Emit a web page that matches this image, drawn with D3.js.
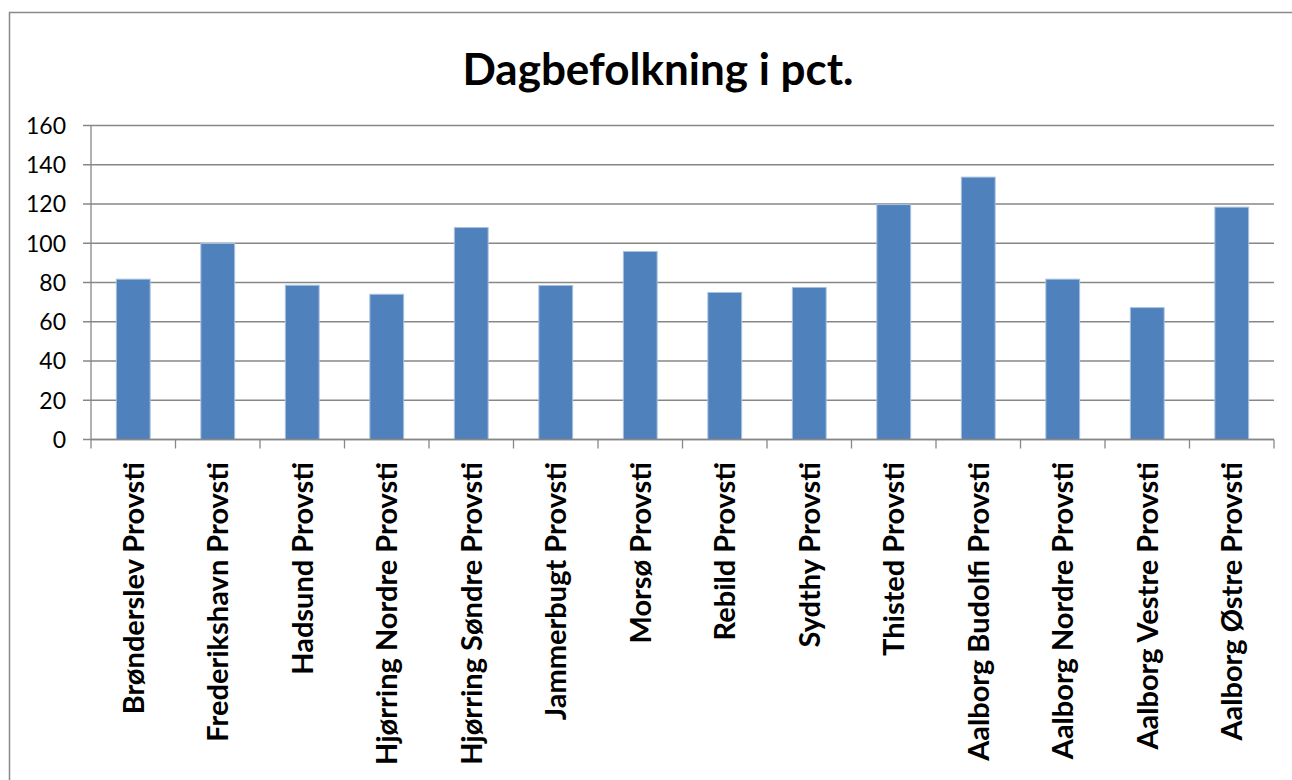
<!DOCTYPE html>
<html><head><meta charset="utf-8">
<script src="https://cdn.jsdelivr.net/npm/d3@7"></script>
<style>body{margin:0;background:#fff;} svg{display:block;}</style>
</head><body>
<svg id="c" width="1292" height="780"></svg>
<script>
const title = "Dagbefolkning i pct.";
const categories = ["Brønderslev Provsti","Frederikshavn Provsti","Hadsund Provsti","Hjørring Nordre Provsti","Hjørring Søndre Provsti","Jammerbugt Provsti","Morsø Provsti","Rebild Provsti","Sydthy Provsti","Thisted Provsti","Aalborg Budolfi Provsti","Aalborg Nordre Provsti","Aalborg Vestre Provsti","Aalborg Østre Provsti"];
const values = [81.7,99.9,78.6,74.0,108.0,78.5,95.8,74.9,77.5,119.7,133.7,81.7,67.2,118.4];
const yTicks = [0,20,40,60,80,100,120,140,160];

const svg = d3.select("#c");
const pLeft = 91, pRight = 1274, pTop = 125.5, pBottom = 439.5;

svg.append("rect").attr("x",9.5).attr("y",12.5).attr("width",1400).attr("height",1000)
  .attr("fill","#fff").attr("stroke","#898989").attr("stroke-width",1.5);

svg.append("text").attr("x",658).attr("y",85).attr("text-anchor","middle")
  .style("font-family","Lato, 'Open Sans', sans-serif").style("font-weight","bold").style("font-size","44px")
  .attr("fill","#000").text(title);

const x = d3.scaleBand().domain(categories).range([pLeft,pRight]).paddingInner(0.6).paddingOuter(0.3);
const y = d3.scaleLinear().domain([0,160]).range([pBottom,pTop]);

svg.append("g").selectAll("line").data(yTicks).join("line")
  .attr("x1",pLeft-8).attr("x2",pRight).attr("y1",d=>y(d)).attr("y2",d=>y(d))
  .attr("stroke","#878787").attr("stroke-width",1.3);

svg.append("line").attr("x1",pLeft).attr("x2",pLeft).attr("y1",pTop).attr("y2",pBottom)
  .attr("stroke","#878787").attr("stroke-width",1.3);

svg.append("g").selectAll("text").data(yTicks).join("text")
  .attr("x",66).attr("y",d=>y(d)).attr("dy","0.36em").attr("text-anchor","end")
  .style("font-family","Lato, sans-serif").style("font-size","23px").attr("fill","#000")
  .text(d=>d);

svg.append("g").selectAll("rect").data(values).join("rect")
  .attr("x",(d,i)=>x(categories[i])).attr("width",x.bandwidth())
  .attr("y",d=>y(d)).attr("height",d=>y(0)-y(d))
  .attr("fill","#4f81bd").attr("stroke","#a9c0df").attr("stroke-width",1);

svg.append("line").attr("x1",pLeft).attr("x2",pRight).attr("y1",pBottom).attr("y2",pBottom)
  .attr("stroke","#878787").attr("stroke-width",1.3);
const step = x.step();
svg.append("g").selectAll("line").data(d3.range(categories.length+1)).join("line")
  .attr("x1",i=>pLeft+i*step).attr("x2",i=>pLeft+i*step).attr("y1",pBottom).attr("y2",pBottom+9)
  .attr("stroke","#878787").attr("stroke-width",1.3);

svg.append("g").selectAll("text").data(categories).join("text")
  .attr("transform",d=>`translate(${x(d)+x.bandwidth()/2},462) rotate(-90)`)
  .attr("dy","0.36em").attr("text-anchor","end")
  .style("font-family","Lato, sans-serif").style("font-weight","bold").style("font-size","29px")
  .attr("fill","#000").text(d=>d);
</script>
</body></html>
